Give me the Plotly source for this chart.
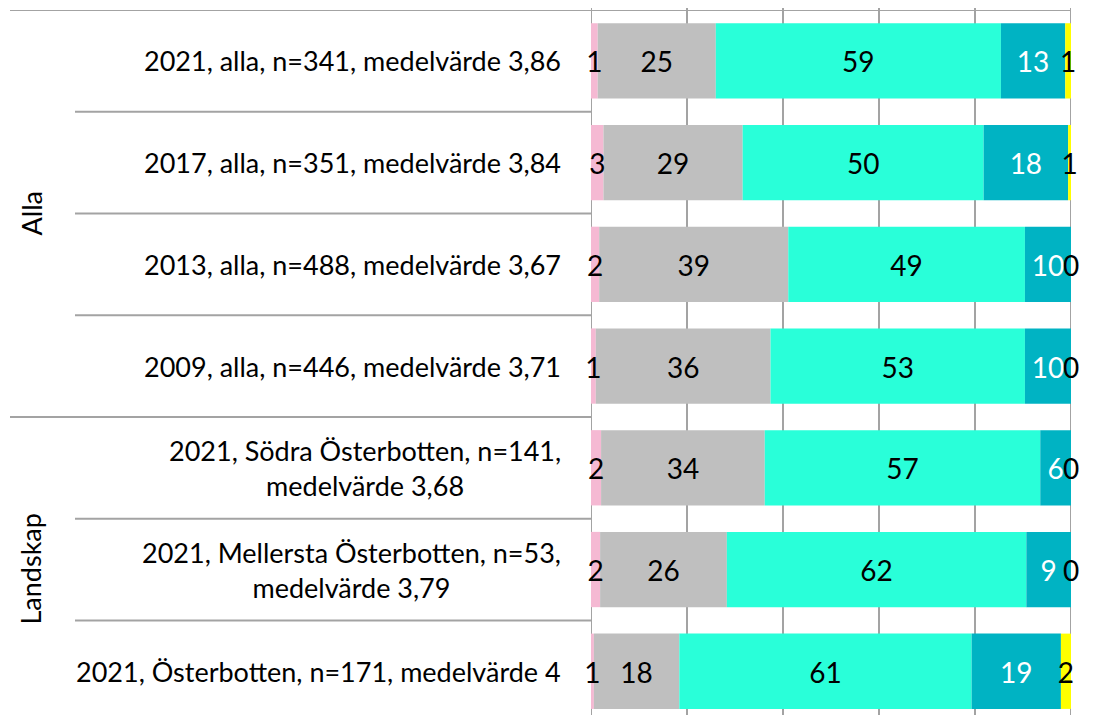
import plotly.graph_objects as go

categories = [
    "2021, alla, n=341, medelvärde 3,86",
    "2017, alla, n=351, medelvärde 3,84",
    "2013, alla, n=488, medelvärde 3,67",
    "2009, alla, n=446, medelvärde 3,71",
    "2021, Södra Österbotten, n=141,<br>medelvärde 3,68",
    "2021, Mellersta Österbotten, n=53,<br>medelvärde 3,79",
    "2021, Österbotten, n=171, medelvärde 4",
]
groups = ["Alla", "Landskap"]
group_rows = [[0, 1, 2, 3], [4, 5, 6]]

s1 = [1.4, 2.6, 1.7, 1.0, 2.1, 1.9, 0.6]
s2 = [24.6, 29.0, 39.4, 36.4, 34.1, 26.4, 17.8]
s3 = [59.4, 50.2, 49.3, 53.0, 57.4, 62.4, 60.9]
s4 = [13.4, 17.6, 9.6, 9.6, 6.4, 9.3, 18.6]
s5 = [1.2, 0.6, 0.0, 0.0, 0.0, 0.0, 2.1]

series = [s1, s2, s3, s4, s5]
colors = ["#F5B9D3", "#BFBFBF", "#29FFD9", "#00B3C3", "#FFFF00"]
label_colors = ["#000000", "#000000", "#000000", "#FFFFFF", "#000000"]

FONT = "Lato"
GRID = "#A3A3A3"
LABEL_DY = 0.045  # small downward nudge so digits sit like the original

rows = list(range(len(categories)))
fig = go.Figure()

cum = [0.0] * len(rows)
for vals, col, lcol in zip(series, colors, label_colors):
    fig.add_trace(go.Bar(
        y=rows, x=vals, base=cum[:], orientation="h", width=0.74,
        marker=dict(color=col, line=dict(width=0)), hoverinfo="skip",
        showlegend=False,
    ))
    centers = [c + v / 2 for c, v in zip(cum, vals)]
    fig.add_trace(go.Scatter(
        y=[r + LABEL_DY for r in rows], x=centers, mode="text",
        text=[f"{v:.0f}" for v in vals],
        textposition="middle center",
        textfont=dict(family=FONT, size=28, color=lcol),
        cliponaxis=False, hoverinfo="skip", showlegend=False,
    ))
    cum = [c + v for c, v in zip(cum, vals)]

shapes = []
# vertical gridlines (behind bars)
for gx in [0, 20, 40, 60, 80, 100]:
    shapes.append(dict(type="line", xref="x", yref="paper", x0=gx, x1=gx,
                       y0=-0.02, y1=1 + 10 / 705, line=dict(color=GRID, width=2), layer="below"))
# top line
shapes.append(dict(type="line", xref="paper", yref="y", x0=-581 / 480, x1=1, y0=-0.5, y1=-0.5,
                   line=dict(color=GRID, width=2), layer="below"))
# group separator
shapes.append(dict(type="line", xref="paper", yref="y", x0=-581 / 480, x1=0, y0=3.5, y1=3.5,
                   line=dict(color=GRID, width=2)))
# row separators
for sy in [0.5, 1.5, 2.5, 4.5, 5.5]:
    shapes.append(dict(type="line", xref="paper", yref="y", x0=-516 / 480, x1=0, y0=sy, y1=sy,
                       line=dict(color=GRID, width=2)))

annotations = []
for i, cat in enumerate(categories):
    annotations.append(dict(xref="paper", yref="y", x=-28 / 480, y=i, text=cat,
                            xanchor="right", yanchor="middle", align="center",
                            showarrow=False, font=dict(family=FONT, size=27, color="#000000")))
for g, rr in zip(groups, group_rows):
    annotations.append(dict(xref="paper", yref="y", x=-560 / 480, y=sum(rr) / len(rr), text=g,
                            textangle=-90, xanchor="center", yanchor="middle",
                            showarrow=False, font=dict(family=FONT, size=27, color="#000000")))

fig.update_layout(
    width=1096, height=707,
    margin=dict(l=583, r=33, t=2, b=0),
    paper_bgcolor="white", plot_bgcolor="white",
    barmode="overlay",
    xaxis=dict(range=[0, 100], showgrid=False, zeroline=False, showticklabels=False, ticks=""),
    yaxis=dict(range=[6.43, -0.5], showgrid=False, zeroline=False, showticklabels=False, ticks=""),
    shapes=shapes, annotations=annotations,
)

fig.write_html("out.html")
